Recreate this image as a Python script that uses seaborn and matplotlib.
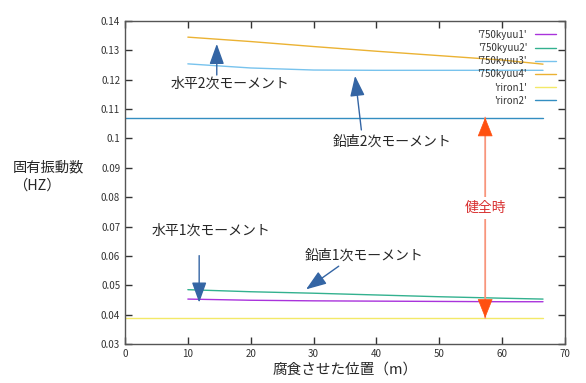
import matplotlib
matplotlib.use("Agg")
import matplotlib.pyplot as plt
import seaborn as sns
import pandas as pd

sns.set_theme(style="ticks")
plt.rcParams['font.family'] = ['Noto Sans CJK JP', 'DejaVu Sans']

# data
x_pos = [10, 20, 30, 40, 50, 60, 66.5]
kyuu1 = [0.0453, 0.0449, 0.0447, 0.0446, 0.0445, 0.0444, 0.0444]
kyuu2 = [0.0485, 0.0478, 0.0473, 0.0467, 0.0461, 0.0456, 0.0453]
kyuu3 = [0.1254, 0.1240, 0.1233, 0.1232, 0.1232, 0.1232, 0.1232]
kyuu4 = [0.1345, 0.1330, 0.1313, 0.1297, 0.1282, 0.1267, 0.1253]
riron_x = [0, 66.5]
riron1 = [0.0389, 0.0389]
riron2 = [0.1071, 0.1071]

series_names = ["'750kyuu1'", "'750kyuu2'", "'750kyuu3'", "'750kyuu4'", "'riron1'", "'riron2'"]
colors = ["#9400d3", "#009e73", "#56b4e9", "#e69f00", "#f0e442", "#0072b2"]

x_ticks = [0, 10, 20, 30, 40, 50, 60, 70]
y_ticks = [0.03, 0.04, 0.05, 0.06, 0.07, 0.08, 0.09, 0.1, 0.11, 0.12, 0.13, 0.14]
y_tick_labels = ["0.03", "0.04", "0.05", "0.06", "0.07", "0.08", "0.09", "0.1", "0.11", "0.12", "0.13", "0.14"]

fig = plt.figure(figsize=(5.86, 3.83), dpi=100)
ax = fig.add_axes([0.2133, 0.1018, 0.7509, 0.8434])

series = [(x_pos, kyuu1), (x_pos, kyuu2), (x_pos, kyuu3), (x_pos, kyuu4), (riron_x, riron1), (riron_x, riron2)]
for (xs, ys), name, c in zip(series, series_names, colors):
    df = pd.DataFrame({"x": xs, "y": ys})
    sns.lineplot(data=df, x="x", y="y", ax=ax, color=c, lw=1, label=name, alpha=0.8)

ax.set_xlim(0, 70)
ax.set_ylim(0.03, 0.14)
ax.set_xticks(x_ticks)
ax.set_yticks(y_ticks)
ax.set_yticklabels(y_tick_labels)
ax.tick_params(direction='in', top=True, right=True, labelsize=7, length=5, width=1, colors='#333333', labelcolor='#333333')
for s in ax.spines.values():
    s.set_color('#555555')
    s.set_linewidth(1)
ax.set_xlabel("腐食させた位置（m）", fontsize=10.5, labelpad=3)
ax.set_ylabel("")
fig.text(13 / 586, 0.539, "固有振動数\n（HZ）", fontsize=10.3, ha='left', va='center', linespacing=1.4)

leg = ax.legend(loc='upper right', frameon=False, markerfirst=False, fontsize=7,
                handlelength=2.2, labelspacing=0.33, bbox_to_anchor=(1.0, 1.0))
for t in leg.get_texts():
    t.set_color('#333333')

blue = '#3465a4'
aprops = dict(arrowstyle='-|>,head_length=1.25,head_width=0.45', mutation_scale=10, color=blue, lw=1, shrinkA=0, shrinkB=0)

ax.annotate("", xy=(14.6, 0.1322), xytext=(14.6, 0.1216), arrowprops=aprops)
ax.text(7.2, 0.1186, "水平2次モーメント", fontsize=10, va='center')
ax.annotate("", xy=(36.6, 0.1213), xytext=(37.6, 0.1029), arrowprops=aprops)
ax.text(33.1, 0.0988, "鉛直2次モーメント", fontsize=10, va='center')
ax.annotate("", xy=(11.8, 0.0441), xytext=(11.8, 0.0601), arrowprops=aprops)
ax.text(4.3, 0.0686, "水平1次モーメント", fontsize=10, va='center')
ax.annotate("", xy=(28.8, 0.0486), xytext=(34.0, 0.0565), arrowprops=aprops)
ax.text(28.6, 0.0600, "鉛直1次モーメント", fontsize=10, va='center')

# healthy-state double arrow: salmon shaft, solid orange-red heads
ax.annotate("", xy=(57.3, riron2[0]), xytext=(57.3, riron1[0]),
            arrowprops=dict(arrowstyle='-', color='#f8957c', lw=1.3, shrinkA=0, shrinkB=0))
head_props = dict(arrowstyle='-|>,head_length=1.25,head_width=0.5', mutation_scale=10,
                  color='#ff5010', lw=0.5, shrinkA=0, shrinkB=0)
ax.annotate("", xy=(57.3, riron2[0]), xytext=(57.3, riron2[0] - 0.004), arrowprops=head_props)
ax.annotate("", xy=(57.3, riron1[0]), xytext=(57.3, riron1[0] + 0.004), arrowprops=head_props)
ax.text(57.3, 0.0764, "健全時", fontsize=10, color='#d83030', ha='center', va='center',
        bbox=dict(facecolor='white', edgecolor='none', pad=3))

fig.savefig("out.png", dpi=100)
